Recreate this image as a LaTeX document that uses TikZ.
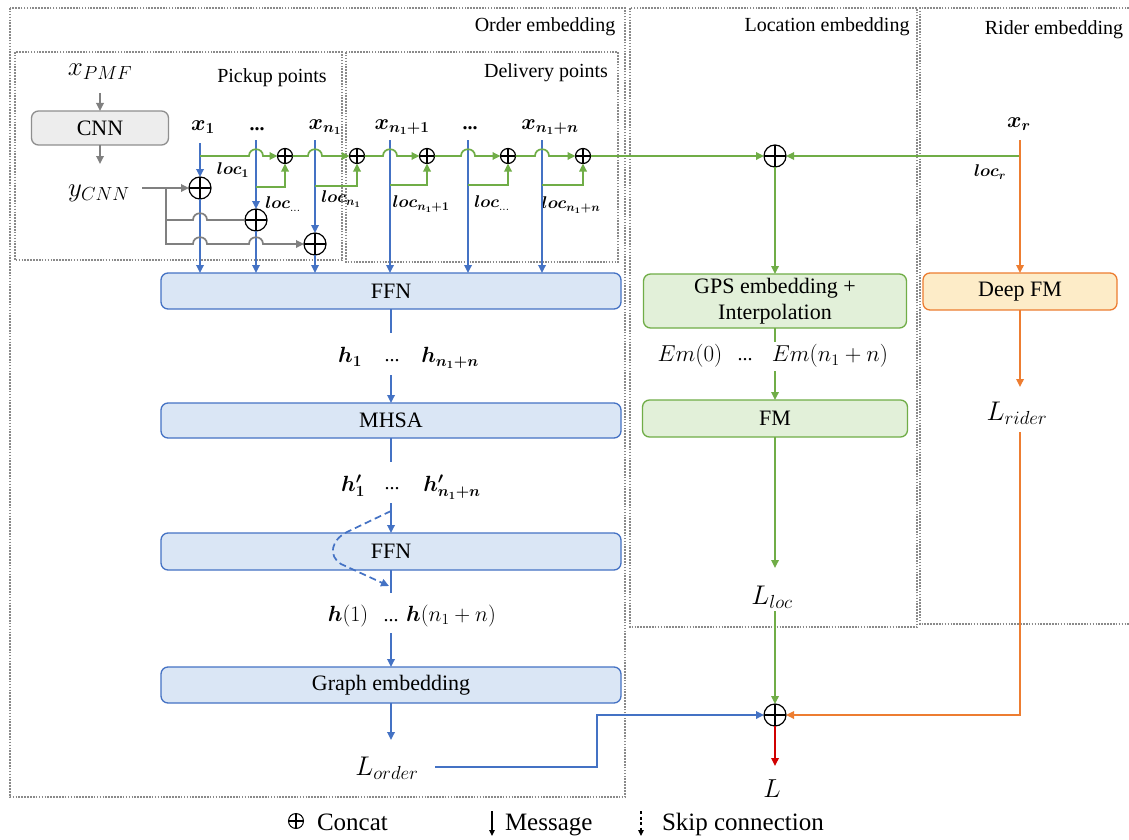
\RequirePackage{fix-cm}
\documentclass[tikz,border=0pt]{standalone}
\usepackage{amsmath}
\usepackage{bm}
\usepackage{fontspec}
\setmainfont{Liberation Serif}
\usetikzlibrary{arrows.meta}

\newcommand{\fsz}[1]{\fontsize{#1}{#1}\selectfont}

\definecolor{cblue}{HTML}{4472C4}
\definecolor{cgreen}{HTML}{70AD47}
\definecolor{corange}{HTML}{ED7D31}
\definecolor{cred}{HTML}{D00000}
\definecolor{arrowgray}{HTML}{808080}
\definecolor{dotgray}{HTML}{8A8A8A}
\definecolor{bluefill}{HTML}{DAE6F5}
\definecolor{greenfill}{HTML}{E2F0D9}
\definecolor{orangefill}{HTML}{FDECC8}
\definecolor{cnnfill}{HTML}{EDEDED}
\definecolor{cnnline}{HTML}{8F8F8F}

\begin{document}
\begin{tikzpicture}[x=1pt,y=-1pt,
  every node/.style={inner sep=0pt, outer sep=0pt},
  tip/.style={-{Triangle[length=8pt,width=7.5pt]}},
  smalltip/.style={-{Triangle[length=6pt,width=5.5pt]}},
  region/.style={draw=dotgray, line width=1.7pt, dash pattern=on 1.6pt off 1.3pt},
  regionlabel/.style={font=\fsz{20}},
  block/.style={draw, line width=1.3pt, rounded corners=7pt, font=\fsz{22}, align=center},
  blueblock/.style={block, draw=cblue, fill=bluefill, minimum width=460pt},
  greenblock/.style={block, draw=cgreen, fill=greenfill},
  orangeblock/.style={block, draw=corange, fill=orangefill},
  grayblock/.style={block, draw=cnnline, fill=cnnfill},
  oplus/.style={circle, draw=black, line width=1.2pt, minimum size=#1,
    path picture={\draw[line width=1.2pt]
      (path picture bounding box.north) -- (path picture bounding box.south)
      (path picture bounding box.west) -- (path picture bounding box.east);}},
  oplus/.default=22pt,
  bl/.style={draw=cblue, line width=1.7pt},
  gl/.style={draw=cgreen, line width=1.7pt},
  ol/.style={draw=corange, line width=1.7pt},
  gy/.style={draw=arrowgray, line width=1.7pt},
  rl/.style={draw=cred, line width=1.7pt},
  skip/.style={dash pattern=on 7pt off 4pt},
  big/.style={font=\fsz{27}},
  mid/.style={font=\fsz{22}},
  dots/.style={font=\fsz{20}},
  small/.style={font=\fsz{17}},
  legend/.style={font=\fsz{25}, anchor=base west}
]
\useasboundingbox[fill=white] (0,0) rectangle (1129,840);

% ---------- dotted group frames ----------
\draw[region] (10,8) rectangle (625,797);
\draw[region] (15,52) rectangle (342,260);
\draw[region] (346,52) rectangle (618,262);
\draw[region] (630,8) rectangle (917,627);
\draw[region] (1129,8) -- (920,8) -- (920,624) -- (1129,624);

\node[regionlabel] (lblorder) at (545,27) {Order embedding};
\node[regionlabel] (lblloc) at (827,27) {Location embedding};
\node[regionlabel] (lblrider) at (1054,30) {Rider embedding};
\node[regionlabel] (lblpick) at (272,78) {Pickup points};
\node[regionlabel] (lbldeliv) at (546,73) {Delivery points};

% ---------- CNN branch ----------
\node[big] (xpmf) at (100,72) {$x_{PMF}$};
\node[grayblock, minimum width=137pt, minimum height=34pt] (cnn) at (100,128) {CNN};
\node[big] (ycnn) at (99,193) {$y_{CNN}$};
\draw[gy,tip] (xpmf.south |- 0,93) -- (cnn.north);
\draw[gy,tip] (cnn.south) -- (cnn.south |- 0,164);

% ---------- input labels ----------
\node[mid] (x1) at (203,127) {$\bm{x_1}$};
\node[dots] (dp) at (257,129) {\textbf{...}};
\node[mid] (xn1) at (325,127) {$\bm{x_{n_1}}$};
\node[mid] (xn11) at (402,127) {$\bm{x_{n_1+1}}$};
\node[dots] (dd) at (470,128) {\textbf{...}};
\node[mid] (xn1n) at (550,127) {$\bm{x_{n_1+n}}$};
\node[mid] (xr) at (1019,124) {$\bm{x_r}$};

% ---------- concat nodes ----------
\node[oplus] (c1) at (200,188) {};
\node[oplus] (c2) at (256,220) {};
\node[oplus] (c3) at (315,244) {};
\node[oplus=15pt] (pA) at (285,156) {};
\node[oplus=15pt] (pB) at (357,156) {};
\node[oplus=15pt] (pC) at (427,156) {};
\node[oplus=15pt] (pD) at (508,156) {};
\node[oplus=15pt] (pE) at (583,156) {};
\node[oplus] (cat) at (775,156) {};
\node[oplus] (fin) at (775,715) {};

% ---------- blocks ----------
\node[blueblock, minimum height=36pt] (ffnA) at (391,291) {FFN};
\node[blueblock, minimum height=35pt] (mhsa) at (391,420.5) {MHSA};
\node[blueblock, minimum height=37pt] (ffnB) at (391,551.5) {FFN};
\node[blueblock, minimum height=36pt] (graph) at (391,685) {Graph embedding};
\node[greenblock, minimum width=263pt, minimum height=54pt, font={\fontsize{22}{26}\selectfont}] (gps) at (775,301) {GPS embedding +\\Interpolation};
\node[greenblock, minimum width=265pt, minimum height=37pt] (fm) at (775,418.5) {FM};
\node[orangeblock, minimum width=194pt, minimum height=37pt] (deepfm) at (1020,291.5) {Deep FM};

% ---------- intermediate labels ----------
\node[mid] (h1) at (350,357) {$\bm{h_1}$};
\node[dots] (hd) at (392,361) {...};
\node[mid] (hn) at (450,358) {$\bm{h_{n_1+n}}$};
\node[mid] (hp1) at (353,486) {$\bm{h'_1}$};
\node[dots] (hpd) at (392,489) {...};
\node[mid] (hpn) at (452,487) {$\bm{h'_{n_1+n}}$};
\node[mid] (g1) at (348,616) {$\bm{h}(1)$};
\node[dots] (gd) at (391,621) {...};
\node[mid] (gn) at (451,616) {$\bm{h}(n_1+n)$};
\node[font=\fsz{23}] (em0) at (690,356) {$Em(0)$};
\node[dots] (emd) at (745,360) {...};
\node[font=\fsz{23}] (emn) at (830,356) {$Em(n_1+n)$};
\node[big] (lorder) at (387,768) {$L_{order}$};
\node[big] (lloc) at (772,597) {$L_{loc}$};
\node[big] (lrider) at (1017,413) {$L_{rider}$};
\node[font=\fsz{26}] (lout) at (772,789) {$L$};

% ---------- loc labels ----------
\node[small] (loc1) at (233,170) {$\bm{loc_1}$};
\node[small] (locd1) at (283,204) {$\bm{loc}_{\dots}$};
\node[small] (locn1) at (341,199) {$\bm{loc_{n_1}}$};
\node[small] (locn11) at (421,204) {$\bm{loc_{n_1+1}}$};
\node[small] (locd2) at (492,203) {$\bm{loc}_{\dots}$};
\node[small] (locn1n) at (571,205) {$\bm{loc_{n_1+n}}$};
\node[small] (locr) at (990,172) {$\bm{loc_r}$};

% ---------- pickup messages (blue) ----------
\draw[bl,tip] (c1.north |- 0,143) -- (c1.north);
\draw[bl,tip] (c1.south) -- (c1 |- ffnA.north);
\draw[bl,tip] (c2.north |- 0,140) -- (c2.north);
\draw[bl,tip] (c2.south) -- (c2 |- ffnA.north);
\draw[bl,tip] (c3.north |- 0,140) -- (c3.north);
\draw[bl,tip] (c3.south) -- (c3 |- ffnA.north);
% delivery messages
\coordinate (dA) at (390,140);
\coordinate (dB) at (468,140);
\coordinate (dC) at (542,140);
\draw[bl,tip] (dA) -- (dA |- ffnA.north);
\draw[bl,tip] (dB) -- (dB |- ffnA.north);
\draw[bl,tip] (dC) -- (dC |- ffnA.north);

% ---------- CNN features into pickup points (gray) ----------
\coordinate (ysplit) at (166,188);
\draw[gy] (142,188) -- (ysplit);
\draw[gy,tip] (ysplit) -- (c1.west);
\draw[gy] (ysplit) -- (166,220) -- (193,220)
  .. controls (193,211) and (207,211) .. (207,220) -- (c2.west);
\draw[gy,tip] (ysplit) -- (166,244) -- (193,244)
  .. controls (193,235) and (207,235) .. (207,244) -- (249,244)
  .. controls (249,235) and (263,235) .. (263,244) -- (c3.west);

% ---------- location chain (green) ----------
\draw[gl,tip] (200,156) -- (249,156)
  .. controls (249,147) and (263,147) .. (263,156) -- (pA.west);
\draw[gl,tip] (256,187) -| (pA.south);
\draw[gl,tip] (pA.east) -- (308,156)
  .. controls (308,147) and (322,147) .. (322,156) -- (pB.west);
\draw[gl,tip] (315,186) -| (pB.south);
\draw[gl,tip] (pB.east) -- (383,156)
  .. controls (383,147) and (397,147) .. (397,156) -- (pC.west);
\draw[gl,tip] (390,185) -| (pC.south);
\draw[gl,tip] (pC.east) -- (461,156)
  .. controls (461,147) and (475,147) .. (475,156) -- (pD.west);
\draw[gl,tip] (468,185) -| (pD.south);
\draw[gl,tip] (pD.east) -- (535,156)
  .. controls (535,147) and (549,147) .. (549,156) -- (pE.west);
\draw[gl,tip] (542,185) -| (pE.south);
\draw[gl,tip] (pE.east) -- (cat.west);
\draw[gl,tip] (1020,156) -- (cat.east);
\draw[gl,tip] (cat.south) -- (gps.north);
\draw[gl] (gps.south) -- (775,342);
\draw[gl,tip] (775,371) -- (fm.north);
\draw[gl,tip] (fm.south) -- (775,568);
\draw[gl,tip] (775,611) -- (fin.north);

% ---------- rider branch (orange) ----------
\draw[ol,tip] (1020,140) -- (deepfm.north);
\draw[ol,tip] (deepfm.south) -- (1020,387);
\draw[ol,tip] (1020,432) |- (fin.east);

% ---------- order encoder (blue) ----------
\draw[bl] (ffnA.south) -- (391,333);
\draw[bl,tip] (391,375) -- (mhsa.north);
\draw[bl] (mhsa.south) -- (391,462);
\draw[bl,tip] (391,503) -- (ffnB.north);
\draw[bl] (ffnB.south) -- (391,593);
\draw[bl,skip,tip] (391,511) -- (347,532)
  .. controls (331,540) and (328,556) .. (341,564) -- (389,586);
\draw[bl,tip] (391,633) -- (graph.north);
\draw[bl,tip] (graph.south) -- (391,740);
\draw[bl,tip] (435,767) -- (597,767) -- (597,715) -- (fin.west);

% ---------- output ----------
\draw[rl,tip] (fin.south) -- (775,766);

% ---------- legend ----------
\node[oplus=15pt, line width=1pt] (lgcat) at (296,821) {};
\node[legend] (lgcattxt) at (317,830) {Concat};
\coordinate (lgmsg) at (492,811);
\draw[black, line width=1.2pt, smalltip] (lgmsg) -- (492,836);
\node[legend] (lgmsgtxt) at (505,830) {Message};
\coordinate (lgskip) at (641,811);
\draw[black, line width=1.2pt, dash pattern=on 3pt off 2.5pt, smalltip] (lgskip) -- (641,836);
\node[legend] (lgskiptxt) at (662,830) {Skip connection};
\end{tikzpicture}
\end{document}
